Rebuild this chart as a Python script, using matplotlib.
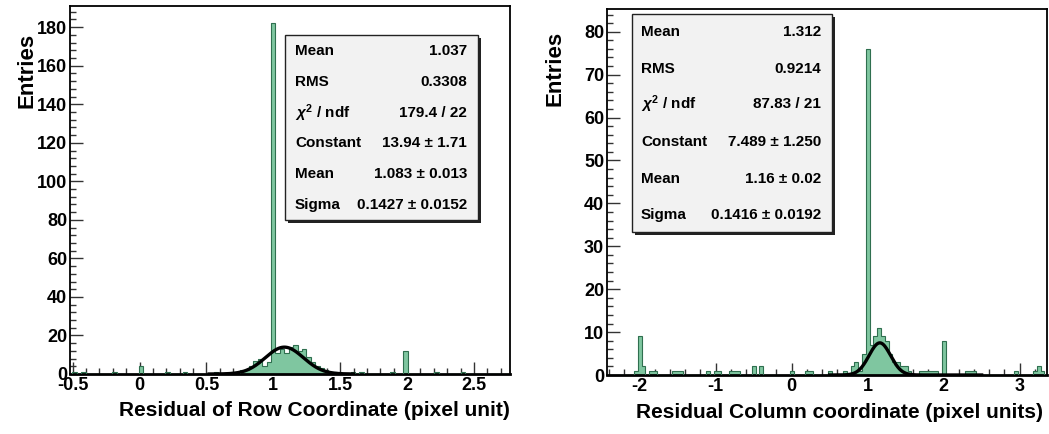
import numpy as np
import matplotlib
matplotlib.use("Agg")
import matplotlib.pyplot as plt
from matplotlib.patches import Rectangle
from matplotlib.ticker import MultipleLocator, FuncFormatter

plt.rcParams['font.family'] = ['Liberation Sans', 'DejaVu Sans']
plt.rcParams['font.weight'] = 'bold'
plt.rcParams['axes.unicode_minus'] = False
plt.rcParams['mathtext.fontset'] = 'custom'
plt.rcParams['mathtext.rm'] = 'Liberation Sans:bold'
plt.rcParams['mathtext.it'] = 'Liberation Sans:italic:bold'

# ---------------- data: Row residual ----------------
row_bw = 0.033
row_core_start = 0.769
row_core_counts = [2, 2, 4, 7, 8, 4, 6, 182, 11, 13, 11, 14, 15, 12, 13, 9, 6, 4, 3, 2, 1, 1]
row_x = [-0.48, -0.41, -0.19, 0.01, 0.20, 0.35, 0.56, 0.70, 1.58, 1.65, 1.88, 2.00, 2.23, 2.43]
row_n = [1, 1, 1, 4, 1, 1, 1, 1, 1, 1, 1, 12, 1, 1]
row_fit = (13.94, 1.083, 0.1427)        # constant, mean, sigma
row_fit_range = (0.52, 1.6)
row_stats = [("Mean", "1.037"), ("RMS", "0.3308"), (r"$\chi^{2}$ / ndf", "179.4 / 22"),
             ("Constant", "13.94 ± 1.71"), ("Mean", "1.083 ± 0.013"),
             ("Sigma", "0.1427 ± 0.0152")]
row_xticks = [-0.5, 0, 0.5, 1, 1.5, 2, 2.5]
row_yticks = [0, 20, 40, 60, 80, 100, 120, 140, 160, 180]

# ---------------- data: Column residual ----------------
col_bw = 0.05
col_core_start = 0.80
col_core_counts = [2, 3, 1, 5, 76, 7, 9, 11, 9, 8, 5, 3, 3, 2, 2, 1]
col_x = [-2.05, -2.0, -1.95, -1.85, -1.8, -1.55, -1.5, -1.45, -1.1, -1.0, -0.95,
         -0.8, -0.75, -0.7, -0.5, -0.4, 0.0, 0.2, 0.25, 0.5, 0.7,
         1.7, 1.75, 1.8, 1.85, 1.9, 2.0, 2.3, 2.35, 2.4, 2.95, 3.2, 3.25, 3.3]
col_n = [1, 9, 2, 1, 1, 1, 1, 1, 1, 1, 1,
         1, 1, 1, 2, 2, 1, 1, 1, 1, 1,
         1, 1, 1, 1, 1, 8, 1, 1, 1, 1, 1, 2, 1]
col_fit = (7.489, 1.16, 0.1416)
col_fit_range = (0.5, 2.5)
col_stats = [("Mean", "1.312"), ("RMS", "0.9214"), (r"$\chi^{2}$ / ndf", "87.83 / 21"),
             ("Constant", "7.489 ± 1.250"), ("Mean", "1.16 ± 0.02"),
             ("Sigma", "0.1416 ± 0.0192")]
col_xticks = [-2, -1, 0, 1, 2, 3]
col_yticks = [0, 10, 20, 30, 40, 50, 60, 70, 80]

FILL = '#7fc6a0'
EDGE = '#2f6f4f'

W, H = 1049, 434
fig = plt.figure(figsize=(W / 100, H / 100), dpi=100)


def px_rect(x0, y0, x1, y1):
    return [x0 / W, 1 - y1 / H, (x1 - x0) / W, (y1 - y0) / H]


def build_counts(xmin, xmax, bw, core_start, core_counts, xs, ns):
    k0 = np.floor((xmin - (core_start - bw / 2)) / bw)
    first = core_start - bw / 2 + k0 * bw
    nb = int(np.ceil((xmax - first) / bw))
    edges = first + bw * np.arange(nb + 1)
    counts = np.zeros(nb)
    cx = core_start + bw * np.arange(len(core_counts))
    allx = np.concatenate([cx, np.asarray(xs, float)])
    alln = np.concatenate([np.asarray(core_counts, float), np.asarray(ns, float)])
    idx = np.floor((allx - edges[0]) / bw + 1e-6).astype(int)
    np.add.at(counts, idx, alln)
    return edges, counts


def draw_panel(ax, xlim, ylim, bw, core_start, core_counts, xs, ns, fit, fit_range,
               xticks, yticks, xminor, yminor):
    edges, counts = build_counts(xlim[0], xlim[1], bw, core_start, core_counts, xs, ns)
    ax.stairs(counts, edges, fill=True, color=FILL, baseline=0, zorder=2)
    ax.stairs(counts, edges, color=EDGE, lw=0.8, baseline=0, zorder=3)
    c, m, s = fit
    xf = np.linspace(fit_range[0], fit_range[1], 400)
    ax.plot(xf, c * np.exp(-0.5 * ((xf - m) / s) ** 2), color='black', lw=2.4, zorder=4)
    ax.set_xlim(*xlim)
    ax.set_ylim(*ylim)
    ax.set_xticks(xticks)
    ax.set_yticks(yticks)
    ax.xaxis.set_minor_locator(MultipleLocator(xminor))
    ax.yaxis.set_minor_locator(MultipleLocator(yminor))
    ax.xaxis.set_major_formatter(FuncFormatter(lambda v, p: '%g' % v))
    ax.yaxis.set_major_formatter(FuncFormatter(lambda v, p: '%g' % v))
    ax.tick_params(which='both', direction='in', top=False, right=False, width=1.0, color='#333333')
    ax.tick_params(which='major', length=9, labelsize=13)
    ax.tick_params(which='minor', length=4.5)
    ax.tick_params(axis='x', pad=2)
    ax.tick_params(axis='y', pad=2)
    for lab in ax.get_xticklabels() + ax.get_yticklabels():
        lab.set_fontweight('bold')
    for sp in ax.spines.values():
        sp.set_linewidth(1.3)
    ax.spines['bottom'].set_linewidth(2.0)


def stats_box(x0, y0, x1, y1, rows, ytext, xl, xr, fs=11):
    sh = 3
    fig.add_artist(Rectangle(((x0 + sh) / W, 1 - (y1 + sh) / H), (x1 - x0) / W, (y1 - y0) / H,
                             transform=fig.transFigure, facecolor='#222222', edgecolor='none', zorder=5))
    fig.add_artist(Rectangle((x0 / W, 1 - y1 / H), (x1 - x0) / W, (y1 - y0) / H,
                             transform=fig.transFigure, facecolor='#f2f2f2', edgecolor='#222222',
                             lw=1.0, zorder=6))
    for (k, v), yy in zip(rows, ytext):
        fig.text(xl / W, 1 - yy / H, k, ha='left', va='center', fontsize=fs, fontweight='bold', zorder=7)
        fig.text(xr / W, 1 - yy / H, v, ha='right', va='center', fontsize=fs, fontweight='bold', zorder=7)


ax1 = fig.add_axes(px_rect(70, 6, 510, 374))
draw_panel(ax1, (-0.52, 2.77), (0, 191), row_bw, row_core_start, row_core_counts, row_x, row_n,
           row_fit, row_fit_range, row_xticks, row_yticks, 0.1, 4)

ax2 = fig.add_axes(px_rect(607, 9, 1047, 375))
draw_panel(ax2, (-2.43, 3.36), (0, 85.3), col_bw, col_core_start, col_core_counts, col_x, col_n,
           col_fit, col_fit_range, col_xticks, col_yticks, 0.2, 2)

stats_box(285, 35, 478, 220, row_stats, [51, 82, 113, 143, 174, 205], 295, 467)
stats_box(632, 14, 832, 232, col_stats, [32, 69, 104, 142, 179, 215], 641, 821)

fig.text(510 / W, 1 - 410 / H, "Residual of Row Coordinate (pixel unit)", ha='right', va='center',
         fontsize=15, fontweight='bold')
fig.text(1043 / W, 1 - 412 / H, "Residual Column coordinate (pixel units)", ha='right', va='center',
         fontsize=15, fontweight='bold')
fig.text(27 / W, 1 - 70 / H, "Entries", rotation=90, ha='center', va='center',
         fontsize=16, fontweight='bold')
fig.text(555 / W, 1 - 68 / H, "Entries", rotation=90, ha='center', va='center',
         fontsize=16, fontweight='bold')

fig.savefig("out.png", dpi=100, facecolor='white')
